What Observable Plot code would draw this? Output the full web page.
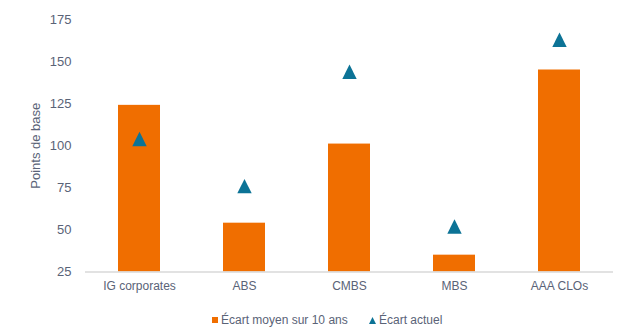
<!DOCTYPE html>
<html>
<head>
<meta charset="utf-8">
<script src="https://cdn.jsdelivr.net/npm/d3@7"></script>
<script src="https://cdn.jsdelivr.net/npm/@observablehq/plot@0.6"></script>
<style>
  html, body { margin: 0; padding: 0; background: #fff; }
  body { width: 640px; height: 335px; overflow: hidden; font-family: "Liberation Sans", Arial, sans-serif; }
  #legend { position: relative; height: 30px; font-size: 12px; color: #5a6377; }
  #legend .item { position: absolute; top: 8px; display: flex; align-items: center; white-space: nowrap; }
  #legend svg { margin-right: 3px; }
</style>
</head>
<body>
<div id="chart"></div>
<div id="legend">
  <div class="item" style="left:212px"><svg width="6" height="6"><rect width="6" height="6" fill="#f06e00"/></svg>Écart moyen sur 10 ans</div>
  <div class="item" style="left:369px"><svg width="7" height="7"><path d="M3.5,0L7,7L0,7Z" fill="#0c7396"/></svg>Écart actuel</div>
</div>
<script>
const categories = ["IG corporates", "ABS", "CMBS", "MBS", "AAA CLOs"];
const avg10 = [124, 54, 101, 35, 145];
const current = [104, 76, 144, 52, 163];
const yTicks = [25, 50, 75, 100, 125, 150, 175];

const rows = categories.map((c, i) => ({category: c, avg: avg10[i], current: current[i]}));

const tri = {
  draw(context, size) {
    const r = Math.sqrt(size / Math.PI);
    context.moveTo(0, -r);
    context.lineTo(r, r);
    context.lineTo(-r, r);
    context.closePath();
  }
};

const textColor = "#5a6377";

const chart = Plot.plot({
  width: 640,
  height: 305,
  marginTop: 19,
  marginBottom: 33.5,
  marginLeft: 85,
  marginRight: 27,
  style: {fontFamily: "'Liberation Sans', Arial, sans-serif", fontSize: "12px", color: textColor, background: "#fff"},
  x: {domain: categories, paddingInner: 0.6, paddingOuter: 0.3},
  y: {domain: [25, 175]},
  marks: [
    Plot.barY(rows, {x: "category", y1: 25, y2: "avg", fill: "#f06e00"}),
    Plot.ruleY([25], {stroke: "#d9d9d9", strokeWidth: 1.5}),
    Plot.dot(rows, {x: "category", y: "current", symbol: tri, r: 7.2, fill: "#0c7396", stroke: "none"}),
    Plot.axisX({tickSize: 0, tickPadding: 9, label: null, fill: textColor, fontSize: 12}),
    Plot.axisY({ticks: yTicks, tickSize: 0, tickPadding: 14, label: "Points de base", labelAnchor: "center", labelOffset: 55, labelArrow: "none", fill: textColor, fontSize: 13})
  ]
});
document.getElementById("chart").appendChild(chart);
</script>
</body>
</html>
